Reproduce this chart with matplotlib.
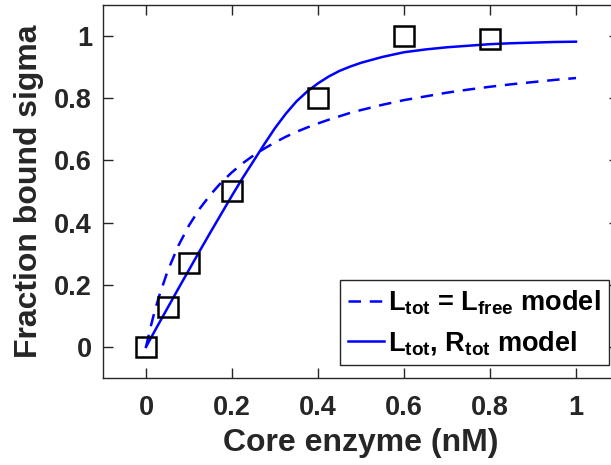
import numpy as np
import matplotlib
matplotlib.use('Agg')
import matplotlib.pyplot as plt

# data
core = [0, 0.05, 0.1, 0.2, 0.4, 0.6, 0.8]
frac = [0, 0.13, 0.27, 0.5, 0.8, 1.0, 0.99]

# model curves
x_free = [0, 0.01, 0.02, 0.03, 0.05, 0.075, 0.1, 0.125, 0.15, 0.175, 0.2, 0.225, 0.25,
          0.275, 0.3, 0.325, 0.35, 0.375, 0.4, 0.425, 0.45, 0.475, 0.5, 0.55, 0.6,
          0.65, 0.7, 0.75, 0.8, 0.85, 0.9, 0.95, 1.0]
y_free = [0, 0.06, 0.114, 0.161, 0.243, 0.325, 0.391, 0.445, 0.49, 0.529, 0.562, 0.591, 0.616,
          0.638, 0.658, 0.676, 0.692, 0.706, 0.719, 0.731, 0.742, 0.753, 0.762, 0.779, 0.794,
          0.806, 0.818, 0.828, 0.837, 0.845, 0.852, 0.859, 0.865]
x_tot = [0, 0.025, 0.05, 0.075, 0.1, 0.125, 0.15, 0.175, 0.2, 0.225, 0.25, 0.275, 0.3,
         0.325, 0.35, 0.375, 0.4, 0.425, 0.45, 0.475, 0.5, 0.55, 0.6, 0.65, 0.7, 0.75,
         0.8, 0.85, 0.9, 0.95, 1.0]
y_tot = [0, 0.063, 0.125, 0.187, 0.248, 0.309, 0.369, 0.428, 0.487, 0.544, 0.598, 0.652, 0.704,
         0.75, 0.79, 0.822, 0.848, 0.87, 0.888, 0.902, 0.914, 0.933, 0.948, 0.957, 0.964, 0.969,
         0.974, 0.977, 0.979, 0.981, 0.982]

xticks = [0, 0.2, 0.4, 0.6, 0.8, 1]
yticks = [0, 0.2, 0.4, 0.6, 0.8, 1]
ticklabels = ['0', '0.2', '0.4', '0.6', '0.8', '1']

plt.rcParams['font.family'] = 'Liberation Sans'
plt.rcParams['font.weight'] = 'bold'
plt.rcParams['axes.labelweight'] = 'bold'
plt.rcParams['mathtext.fontset'] = 'custom'
plt.rcParams['mathtext.rm'] = 'Liberation Sans:bold'
plt.rcParams['mathtext.it'] = 'Liberation Sans:bold'
plt.rcParams['mathtext.bf'] = 'Liberation Sans:bold'

txt = (0.15, 0.15, 0.15)

fig = plt.figure(figsize=(6.11, 4.65), dpi=100)
W, H = 611., 465.
ax = fig.add_axes([103/W, (H-378)/H, 516/W, 373/H])

ax.plot(x_free, y_free, '--', color='#0000ff', lw=1.8, dashes=(5, 3.5),
        label=r'L$_\mathrm{tot}$ = L$_\mathrm{free}$ model')
ax.plot(x_tot, y_tot, '-', color='#0000ff', lw=1.8,
        label=r'L$_\mathrm{tot}$, R$_\mathrm{tot}$ model')
ax.plot(core, frac, 's', mfc='none', mec='k', mew=1.8, ms=14)

ax.set_xlim(-0.1, 1.1)
ax.set_ylim(-0.1, 1.1)
ax.set_xticks(xticks)
ax.set_yticks(yticks)
ax.set_xticklabels(ticklabels)
ax.set_yticklabels(ticklabels)
ax.tick_params(direction='in', length=7, width=1, top=True, right=True,
               labelsize=19.5, colors=txt)
ax.tick_params(axis='x', pad=12)
ax.tick_params(axis='y', pad=8)
for s in ax.spines.values():
    s.set_color(txt)
    s.set_linewidth(1)

ax.set_xlabel('Core enzyme (nM)', fontsize=23, color=txt, labelpad=5)
ax.set_ylabel('Fraction bound sigma', fontsize=23, color=txt, labelpad=7)

leg = ax.legend(loc='lower right', bbox_to_anchor=(0.981, 0.035), fontsize=19.5,
                fancybox=False, edgecolor=txt, framealpha=1,
                handlelength=1.35, handletextpad=0.15, borderpad=0.3,
                labelspacing=0.45, borderaxespad=0)
leg.get_frame().set_linewidth(1)
for t in leg.get_texts():
    t.set_color('k')

fig.savefig('out.png', dpi=100)
